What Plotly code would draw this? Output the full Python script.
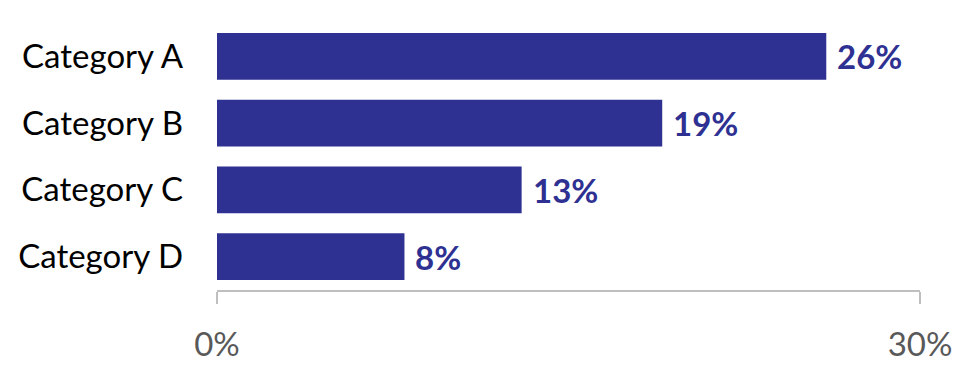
import plotly.graph_objects as go

categories = ["Category A", "Category B", "Category C", "Category D"]
values = [26, 19, 13, 8]
tick_vals = [0, 30]
tick_text = ["0%", "30%"]

bar_color = "#2E3192"
font_family = "Lato, 'Open Sans', sans-serif"

fig = go.Figure()
fig.add_trace(go.Bar(
    x=values, y=categories, orientation="h",
    marker=dict(color=bar_color, line=dict(width=0)),
    hoverinfo="skip",
))

for c, v in zip(categories, values):
    fig.add_annotation(
        x=v, y=c, text=f"<b>{v}%</b>", showarrow=False,
        xanchor="left", yanchor="middle", xshift=9,
        font=dict(family=font_family, size=33, color=bar_color),
    )

fig.update_layout(
    width=976, height=375,
    margin=dict(l=217, r=56, t=23, b=83),
    paper_bgcolor="white", plot_bgcolor="white",
    bargap=0.30,
    showlegend=False,
    font=dict(family=font_family),
)
fig.update_xaxes(
    range=[0, 30], tickvals=tick_vals, ticktext=tick_text,
    showgrid=False, zeroline=False,
    showline=True, linecolor="#BFBFBF", linewidth=2,
    ticks="outside", ticklen=12, tickcolor="#BFBFBF", tickwidth=2,
    tickfont=dict(family=font_family, size=33, color="#595959"),
    ticklabelstandoff=12,
)
fig.update_yaxes(
    autorange="reversed",
    showgrid=False, zeroline=False, showline=False,
    ticks="", ticklabelstandoff=33,
    tickfont=dict(family=font_family, size=33, color="#000000"),
)

fig.write_html("out.html")
